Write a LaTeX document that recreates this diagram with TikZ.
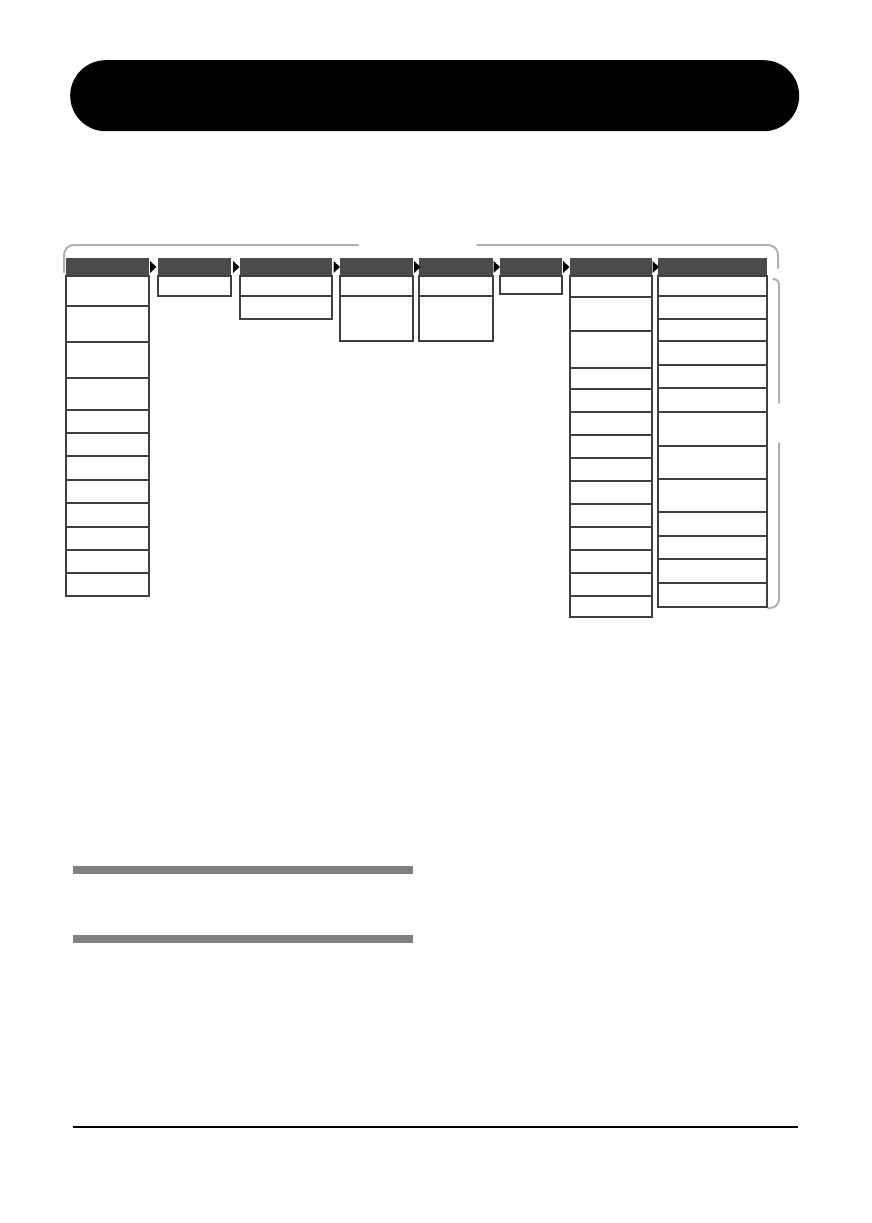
\documentclass[tikz,border=0pt]{standalone}
\usetikzlibrary{positioning}
\definecolor{hdrgray}{HTML}{4D4A4B}
\definecolor{brkgray}{HTML}{B0B0B0}
\definecolor{bargray}{HTML}{808080}
\definecolor{cellline}{HTML}{404040}
\tikzset{
  hdr/.style={fill=hdrgray, draw=none, inner sep=0pt, anchor=north west, minimum height=18pt},
  cell/.style={draw=cellline, line width=1.2pt},
  tip/.style={fill=black, draw=none},
  brk/.style={draw=brkgray, line width=2pt, line cap=round},
  sbar/.style={fill=bargray, draw=none},
}
% #1 name, #2 x1, #3 x2, #4 list of top/bottom pairs
\newcommand{\mkcol}[4]{%
  \node[hdr, minimum width={#3pt-#2pt}] (#1) at (#2,258) {};
  \foreach \ya/\yb in {#4} {\draw[cell] (#2,\ya) rectangle (#3,\yb);}
}
\newcommand{\mktip}[2]{% #1 name, #2 left x
  \coordinate (#1) at (#2,267);
  \fill[tip] (#2,261) -- ++(6.5,6) -- ++(-6.5,6) -- cycle;
}
\begin{document}
\begin{tikzpicture}[x=1pt,y=-1pt]
\useasboundingbox (0,0) rectangle (871,1223);
% title bar
\node[fill=black, rounded corners=35.5pt, minimum width=729pt, minimum height=71pt, inner sep=0pt, anchor=north west] (title) at (70,60) {};
% bracket
\draw[brk, rounded corners=10pt] (64,272) |- (358,245);
\draw[brk, rounded corners=10pt] (477,245) -| (778,268);
\draw[brk, rounded corners=5pt] (773,279) -| (779,403);
\draw[brk, rounded corners=9pt] (779,443) |- (768,608);
% columns
\mkcol{c1}{66}{149}{276/306,306/342,342/378,378/410,410/433,433/456,456/480,480/503,503/527,527/550,550/573,573/596}
\mkcol{c2}{158}{231}{276/296}
\mkcol{c3}{240}{332}{276/296,296/319}
\mkcol{c4}{340}{413}{276/296,296/341}
\mkcol{c5}{419}{493}{276/296,296/341}
\mkcol{c6}{500}{562}{276/294}
\mkcol{c7}{570}{652}{276/297,297/331,331/368,368/389,389/412,412/435,435/458,458/481,481/504,504/527,527/550,550/573,573/596,596/617}
\mkcol{c8}{658}{767}{276/296,296/319,319/341,341/365,365/388,388/412,412/446,446/479,479/512,512/536,536/559,559/583,583/607}
% arrow tips
\mktip{t1}{150}
\mktip{t2}{233}
\mktip{t3}{333.5}
\mktip{t4}{414}
\mktip{t5}{493.5}
\mktip{t6}{563}
\mktip{t7}{652.5}
% grey section bars
\fill[sbar] (73,866) rectangle (413,874);
\fill[sbar] (73,935) rectangle (413,943);
% bottom rule
\draw[line width=1.3pt] (73,1127) -- (798,1127);
\end{tikzpicture}
\end{document}
